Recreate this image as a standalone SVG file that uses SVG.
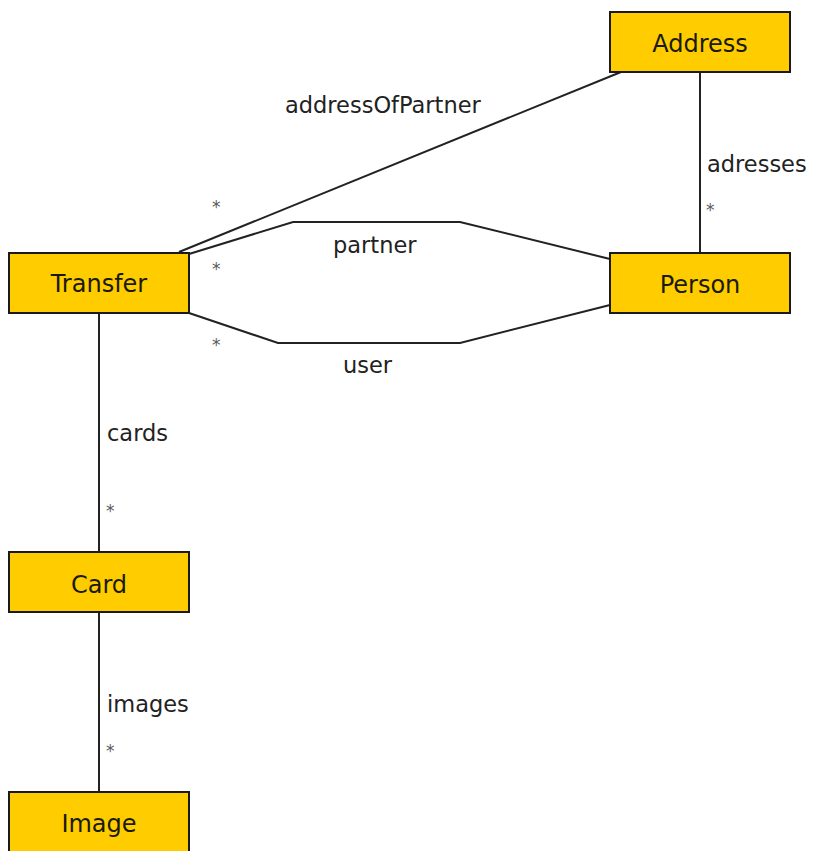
<svg xmlns="http://www.w3.org/2000/svg" width="814" height="851" viewBox="0 0 814 851">
<style>
.node rect{fill:#ffcc00;stroke:#1a1a1a;stroke-width:2}
.node text{font-family:"DejaVu Sans",sans-serif;font-size:24px;fill:#1a1a0a;text-anchor:middle}
.conn{fill:none;stroke:#222;stroke-width:2}
.lbl{font-family:"DejaVu Sans",sans-serif;font-size:22.5px;fill:#222}
.mul{font-family:"DejaVu Sans",sans-serif;font-size:17px;fill:#5a5a5a}
</style>
<rect width="814" height="851" fill="#fff"/>
<g id="connectors">
<path class="conn" d="M179,252 L621,72"/>
<path class="conn" d="M189,254 L293,222 L460,222 L610,259"/>
<path class="conn" d="M189,313 L278,343 L460,343 L610,305"/>
<path class="conn" d="M700,72 L700,253"/>
<path class="conn" d="M99,313 L99,552"/>
<path class="conn" d="M99,613 L99,792"/>
<text class="lbl" x="285" y="113">addressOfPartner</text>
<text class="lbl" x="707" y="172">adresses</text>
<text class="lbl" x="333" y="253">partner</text>
<text class="lbl" x="343" y="373">user</text>
<text class="lbl" x="107" y="441">cards</text>
<text class="lbl" x="107" y="712">images</text>
<text class="mul" x="212" y="213">*</text>
<text class="mul" x="212" y="275">*</text>
<text class="mul" x="212" y="351">*</text>
<text class="mul" x="706" y="216">*</text>
<text class="mul" x="106" y="517">*</text>
<text class="mul" x="106" y="757">*</text>
</g>
<g id="Address" class="node"><rect x="610" y="12" width="180" height="60"/><text x="700" y="52">Address</text></g>
<g id="Transfer" class="node"><rect x="9" y="253" width="180" height="60"/><text x="99" y="292">Transfer</text></g>
<g id="Person" class="node"><rect x="610" y="253" width="180" height="60"/><text x="700" y="293">Person</text></g>
<g id="Card" class="node"><rect x="9" y="552" width="180" height="60"/><text x="99" y="593">Card</text></g>
<g id="Image" class="node"><rect x="9" y="792" width="180" height="70"/><text x="99" y="832">Image</text></g>
</svg>
